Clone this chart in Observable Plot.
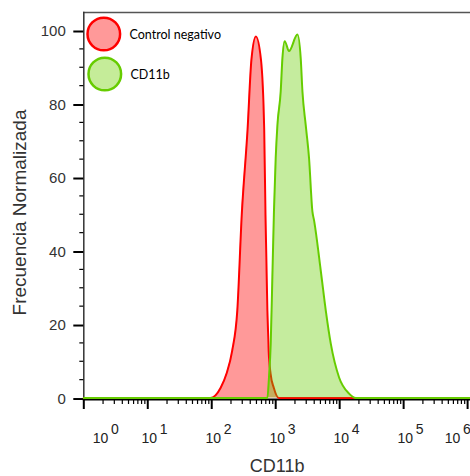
<!DOCTYPE html>
<html>
<head>
<meta charset="utf-8">
<script src="https://cdn.jsdelivr.net/npm/d3@7"></script>
<script src="https://cdn.jsdelivr.net/npm/@observablehq/plot@0.6"></script>
<style>
  body { margin: 0; background: #fff; }
  #chart { width: 470px; height: 476px; }
</style>
</head>
<body>
<div id="chart"></div>
<script>
// ---- Data ----
const seriesNames = ["Control negativo", "CD11b"];

// Control negativo: intensity (CD11b fluorescence) vs normalised frequency
const controlIntensity = [1, 95, 138, 170, 209, 251, 295, 363, 417, 490, 589, 661, 692, 741, 776, 832, 933, 1122, 1100000];
const controlFreq      = [0, 0, 2.8, 6.6, 12.9, 23.8, 50, 73, 92, 98.4, 92, 73, 50, 23.8, 12.9, 6.6, 2.8, 0, 0];

// CD11b stained sample
const cd11bIntensity = [1, 741, 785, 836, 887, 940, 1000, 1064, 1197, 1274, 1384, 1614, 2188, 2460, 2618, 2944, 3319, 3750, 3972, 5058, 6067, 7261, 9795, 14028, 17865, 1100000];
const cd11bFreq      = [0, 0, 5.6, 14.8, 33, 51, 65.3, 74.3, 83.4, 92.5, 97.1, 94.4, 98.9, 92.5, 83.4, 74.3, 65.3, 50.7, 48.4, 34.7, 23.8, 14.8, 5.6, 1.2, 0, 0];

// Tick labels
const yMajorTicks = [0, 20, 40, 60, 80, 100];
const yMinorTicks = [5, 10, 15, 25, 30, 35, 45, 50, 55, 65, 70, 75, 85, 90, 95];
const xDecades = [0, 1, 2, 3, 4, 5, 6];
const xBase = "10";
const xTitle = "CD11b";
const yTitle = "Frecuencia Normalizada";

// ---- Tables built from the arrays ----
const control = controlIntensity.map((x, i) => ({x, y: controlFreq[i]}));
const cd11b = cd11bIntensity.map((x, i) => ({x, y: cd11bFreq[i]}));
const xMajor = xDecades.map(e => 10 ** e);
const xMinor = xDecades.slice(0, -1).flatMap(e => [2,3,4,5,6,7,8,9].map(m => m * 10 ** e));

const RED = "#ff0000", GREEN = "#66cc00";
const FONT = "Liberation Sans, Arial, sans-serif";

function decadeLabels(exps, dx) {
  return [
    Plot.text(exps, {x: d => 10 ** d, text: () => xBase, frameAnchor: "bottom",
      dx, dy: 39.3, lineAnchor: "middle", textAnchor: "middle", fontSize: 14, fill: "#222", fontFamily: FONT}),
    Plot.text(exps, {x: d => 10 ** d, text: d => String(d), frameAnchor: "bottom",
      dx: dx + 10.5, dy: 30, lineAnchor: "middle", textAnchor: "start", fontSize: 14, fill: "#222", fontFamily: FONT})
  ];
}

const chart = Plot.plot({
  width: 470,
  height: 476,
  marginLeft: 83.3,
  marginRight: 0,
  marginTop: 12,
  marginBottom: 77,
  style: {fontFamily: FONT, background: "#fff"},
  x: {type: "log", domain: [1, 1.11e6]},
  y: {domain: [-0.4, 104.9]},
  marks: [
    // frame lines
    Plot.frame({anchor: "top", stroke: "#555", strokeWidth: 1.5}),
    Plot.frame({anchor: "left", stroke: "#333", strokeWidth: 1.5}),
    Plot.frame({anchor: "bottom", stroke: "#000", strokeWidth: 2}),
    // y axis
    Plot.axisY(yMajorTicks, {tickSize: 10, tickPadding: 8, strokeWidth: 2, stroke: "#000",
      fontSize: 15, fill: "#333", label: null, dy: 1}),
    Plot.axisY(yMinorTicks, {tickSize: 4, strokeWidth: 1.2, stroke: "#000", text: null, label: null}),
    // x axis ticks
    Plot.axisX(xMajor, {tickSize: 10, strokeWidth: 2, stroke: "#000", text: null, label: null}),
    Plot.axisX(xMinor, {tickSize: 5, strokeWidth: 1.2, stroke: "#000", text: null, label: null}),
    // x tick labels (10^n)
    ...decadeLabels(xDecades.slice(0, 1), 16.7),
    ...decadeLabels(xDecades.slice(1, -1), 1.6),
    ...decadeLabels(xDecades.slice(-1), -15),
    // histograms
    Plot.areaY(control, {x: "x", y: "y", fill: RED, fillOpacity: 0.4, curve: "monotone-x"}),
    Plot.lineY(control, {x: "x", y: "y", stroke: RED, strokeWidth: 2, curve: "monotone-x"}),
    Plot.areaY(cd11b, {x: "x", y: "y", fill: GREEN, fillOpacity: 0.38, curve: "monotone-x"}),
    Plot.lineY(cd11b, {x: "x", y: "y", stroke: GREEN, strokeWidth: 2, curve: "monotone-x"}),
    // axis titles
    Plot.text([xTitle], {frameAnchor: "bottom", dy: 67, lineAnchor: "middle", textAnchor: "middle", fontSize: 18, fill: "#333"}),
    Plot.text([yTitle], {frameAnchor: "left", dx: -64.3, dy: 6.5, rotate: -90, textAnchor: "middle", lineAnchor: "middle", fontSize: 19, fill: "#333"}),
    // legend
    Plot.dot([seriesNames[0]], {frameAnchor: "top-left", dx: 20, dy: 21.5, r: 16.3, fill: "#ff9999", stroke: RED, strokeWidth: 2.5}),
    Plot.dot([seriesNames[1]], {frameAnchor: "top-left", dx: 21, dy: 61.5, r: 16.3, fill: "#c5ec99", stroke: GREEN, strokeWidth: 2.5}),
    Plot.text([seriesNames[0]], {frameAnchor: "top-left", dx: 45.7, dy: 22.5, textAnchor: "start", lineAnchor: "middle", fontSize: 12.5, fontFamily: "Lato, sans-serif", fill: "#000"}),
    Plot.text([seriesNames[1]], {frameAnchor: "top-left", dx: 46.7, dy: 62, textAnchor: "start", lineAnchor: "middle", fontSize: 12.5, fontFamily: "Lato, sans-serif", fill: "#000"})
  ]
});
document.getElementById("chart").appendChild(chart);
</script>
</body>
</html>
